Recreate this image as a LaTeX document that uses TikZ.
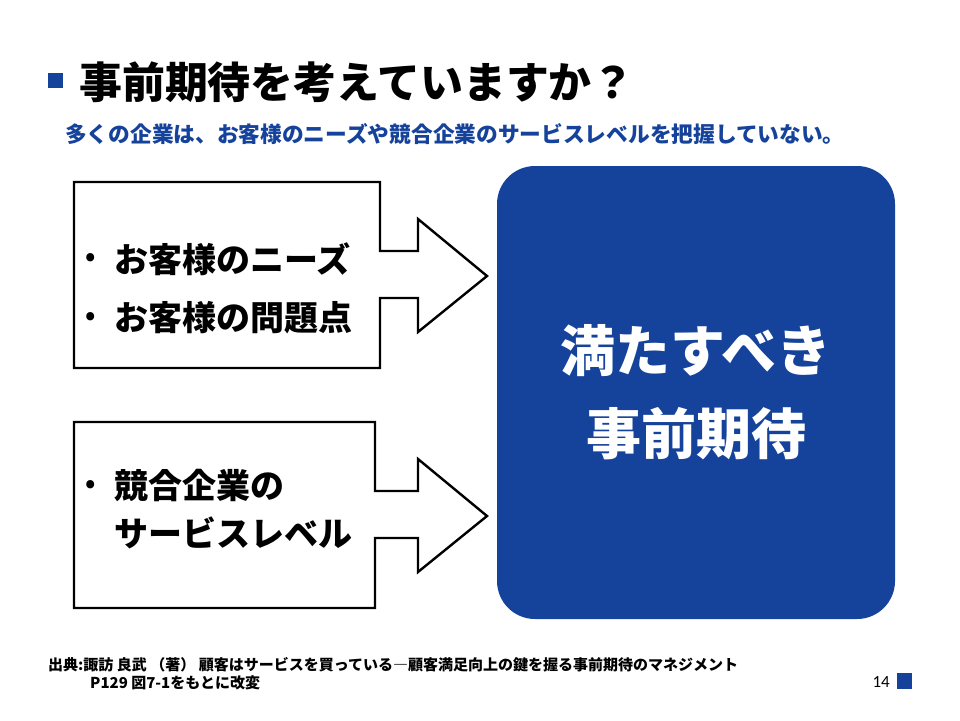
\documentclass[tikz,border=0pt]{standalone}
\usepackage{fontspec}
\usetikzlibrary{positioning}
\newfontfamily\jp{Noto Sans CJK JP}
\newfontfamily\pnum{Carlito}
\definecolor{c1}{HTML}{15429A}
\newcommand{\fs}[1]{\fontsize{#1}{#1}\selectfont}

\begin{document}
\begin{tikzpicture}[x=1pt,y=-1pt,
  callout/.style={draw=black,line width=2.4pt,fill=white,line join=miter},
  item/.style={anchor=west,inner sep=0pt,font=\jp\bfseries\fs{34}},
  bullet/.style={anchor=center,inner sep=0pt,font=\jp\bfseries\fs{26}},
  note/.style={anchor=west,inner sep=0pt,font=\jp\bfseries\fs{15}}]

\useasboundingbox[fill=white] (0,0) rectangle (960,720);

% heading
\fill[c1] (48,73) rectangle (63,88);
\node[anchor=west,inner sep=0pt,font=\jp\bfseries\fs{42.9}] (title) at (79,82) {事前期待を考えていますか？};
\node[anchor=west,inner sep=0pt,text=c1,font=\jp\bfseries\fs{21.7}] (lead) at (65,134)
  {多くの企業は、お客様のニーズや競合企業のサービスレベルを把握していない。};

% two boxes with arrows into the goal
\draw[callout] (74,182) -- (380,182) -- (380,251) -- (418,251) -- (418,219) -- (487,276)
  -- (418,332) -- (418,298) -- (380,298) -- (380,368) -- (74,368) -- cycle;
\draw[callout] (74,422) -- (375,422) -- (375,491) -- (418,491) -- (418,459) -- (487,516)
  -- (418,572) -- (418,538) -- (375,538) -- (375,608) -- (74,608) -- cycle;

\node[bullet] (b1) at (91,259) {•};
\node[item] (needs) at (114,259) {お客様のニーズ};
\node[bullet] (b2) at (91,318) {•};
\node[item] (issues) at (114,318) {お客様の問題点};
\node[bullet] (b3) at (91,486) {•};
\node[item] (rival) at (114,486) {競合企業の};
\node[item] (level) at (114,533) {サービスレベル};

\fill[c1,rounded corners=38pt] (497,166) rectangle (895,619);
\node[text=white,align=center,inner sep=0pt,font=\jp\bfseries\fontsize{55}{83}\selectfont] (goal) at (696,392)
  {満たすべき\\事前期待};

% source
\node[note] (src) at (48,665)
  {出典:諏訪 良武 （著） 顧客はサービスを買っている―顧客満足向上の鍵を握る事前期待のマネジメント};
\node[note] (srcp) at (90,683) {P129 図7-1をもとに改変};
\node[anchor=east,inner sep=0pt,font=\pnum\fs{17}] (pgno) at (890,682) {14};
\fill[c1] (897,673) rectangle (912,689);
\end{tikzpicture}
\end{document}
